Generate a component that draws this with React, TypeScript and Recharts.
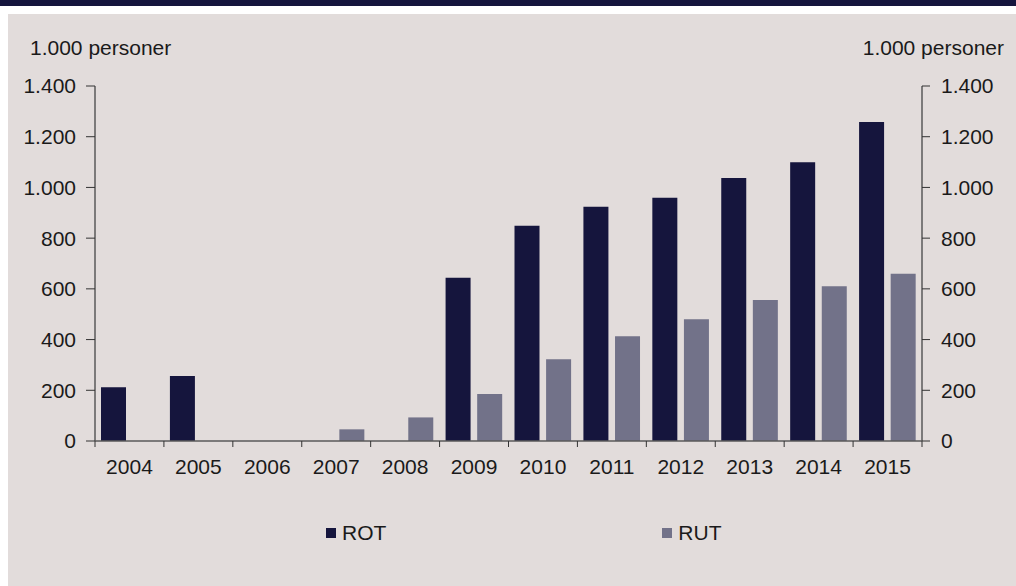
import { BarChart, Bar, XAxis, YAxis, Legend } from 'recharts'

const years = ['2004', '2005', '2006', '2007', '2008', '2009', '2010', '2011', '2012', '2013', '2014', '2015']
const rot = [212, 256, null, null, null, 644, 849, 924, 959, 1037, 1099, 1258]
const rut = [null, null, null, 46, 93, 185, 322, 413, 480, 556, 610, 660]
const yTicks = [0, 200, 400, 600, 800, 1000, 1200, 1400]
const unitLabel = '1.000 personer'

const FONT = '"Liberation Sans", Arial, sans-serif'
const FS = 21
const TEXT = '#1a1a1a'
const NAVY = '#15153d'
const GREY_BAR = '#727289'
const BG = '#e2dcdb'
const AXIS = '#5a5a5a'

const X_TICK_SIZE = 6
const X_TICK_MARGIN = 12

const data = years.map((y, i) => ({ year: y, ROT: rot[i], RUT: rut[i] }))

function fmt(v: number): string {
  return String(v).replace(/\B(?=(\d{3})+(?!\d))/g, '.')
}

// Excel style: ticks sit between categories, labels in the middle
function YearTick(props: any) {
  const { x, y, payload, index, visibleTicksCount, width } = props
  const half = payload?.offset ?? (width / visibleTicksCount) / 2
  const axisY = y - X_TICK_SIZE - X_TICK_MARGIN
  return (
    <g>
      <line x1={x - half} x2={x - half} y1={axisY} y2={axisY + X_TICK_SIZE} stroke="#333" strokeWidth={1} />
      {index === visibleTicksCount - 1 && (
        <line x1={x + half} x2={x + half} y1={axisY} y2={axisY + X_TICK_SIZE} stroke="#333" strokeWidth={1} />
      )}
      <text x={x} y={y} dy="0.71em" textAnchor="middle" fill={TEXT} fontSize={FS} fontFamily={FONT}>
        {payload.value}
      </text>
    </g>
  )
}

function LegendContent(props: any) {
  const items = props.payload || []
  return (
    <div style={{ display: 'flex', paddingLeft: 326, gap: 276, fontFamily: FONT, fontSize: FS, lineHeight: '21px', color: TEXT }}>
      {items.map((it: any) => (
        <div key={it.value} style={{ display: 'flex', alignItems: 'center' }}>
          <span style={{ width: 10, height: 10, background: it.color, marginRight: 6, display: 'inline-block' }} />
          <span>{it.value}</span>
        </div>
      ))}
    </div>
  )
}

export default function App() {
  const tickStyle = { fill: TEXT, fontSize: FS, fontFamily: FONT }
  return (
    <div style={{ position: 'relative', width: 1016, height: 586, overflow: 'hidden', fontFamily: FONT }}>
      <style>{'body{margin:0}'}</style>
      <div style={{ position: 'absolute', left: 0, top: 0, width: 1016, height: 6, background: NAVY }} />
      <div style={{ position: 'absolute', left: 8, top: 14, right: 0, bottom: 0, background: BG }} />
      <div style={{ position: 'absolute', left: 30, top: 37, fontSize: FS, lineHeight: '21px', color: TEXT }}>{unitLabel}</div>
      <div style={{ position: 'absolute', right: 12, top: 37, fontSize: FS, lineHeight: '21px', color: TEXT }}>{unitLabel}</div>
      <div style={{ position: 'absolute', left: 0, top: 0 }}>
        <BarChart
          width={1016}
          height={586}
          data={data}
          margin={{ top: 86, right: 0, left: 0, bottom: 0 }}
          barCategoryGap={6}
          barGap={6.6}
        >
          <XAxis
            dataKey="year"
            height={145}
            tickLine={false}
            tickSize={X_TICK_SIZE}
            tickMargin={X_TICK_MARGIN}
            axisLine={{ stroke: AXIS, strokeWidth: 1.5 }}
            tick={<YearTick />}
            interval={0}
          />
          <YAxis
            yAxisId="left"
            width={95}
            domain={[0, 1400]}
            ticks={yTicks}
            tickFormatter={fmt}
            tick={tickStyle}
            tickSize={9}
            tickMargin={10}
            tickLine={{ stroke: '#333' }}
            axisLine={{ stroke: AXIS, strokeWidth: 1.5 }}
            allowDataOverflow
          />
          <YAxis
            yAxisId="right"
            orientation="right"
            width={94}
            domain={[0, 1400]}
            ticks={yTicks}
            tickFormatter={fmt}
            tick={tickStyle}
            tickSize={8}
            tickMargin={11}
            tickLine={{ stroke: '#333' }}
            axisLine={{ stroke: AXIS, strokeWidth: 1.5 }}
            allowDataOverflow
          />
          <Legend
            layout="horizontal"
            verticalAlign="middle"
            align="center"
            wrapperStyle={{ top: 522, left: 0, width: 1016 }}
            content={<LegendContent />}
          />
          <Bar yAxisId="left" dataKey="ROT" fill={NAVY} isAnimationActive={false} />
          <Bar yAxisId="left" dataKey="RUT" fill={GREY_BAR} isAnimationActive={false} />
        </BarChart>
      </div>
    </div>
  )
}
